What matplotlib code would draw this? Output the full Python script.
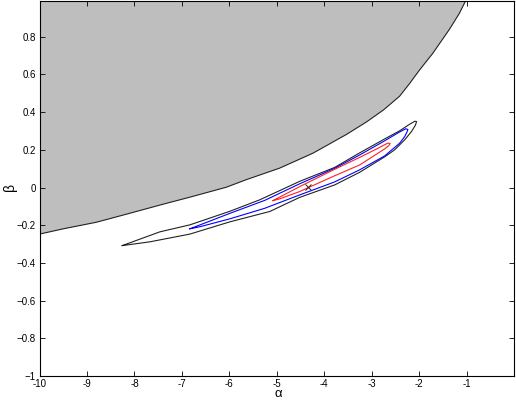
import matplotlib
matplotlib.use("Agg")
import matplotlib.pyplot as plt

# Boundary of the gray (infeasible) region
bound_x = [-10, -9.5, -8.8, -8.09, -7.39, -6.83, -6.06, -5.64, -4.94, -4.24,
           -3.53, -3.11, -2.75, -2.41, -2.2, -1.99, -1.71, -1.36, -1.15, -1.01]
bound_y = [-0.247, -0.219, -0.184, -0.136, -0.088, -0.051, 0.002, 0.042, 0.103, 0.182,
           0.282, 0.348, 0.412, 0.485, 0.552, 0.624, 0.713, 0.84, 0.925, 0.996]

# Outer (black) contour
black_x = [-8.257, -7.463, -6.832, -5.989, -5.358, -4.516, -3.779, -3.253, -2.726, -2.411,
           -2.2, -2.09, -2.053, -2.08, -2.158, -2.305, -2.516, -2.726, -3.253, -3.779,
           -4.516, -5.147, -5.989, -6.832, -7.674, -8.257]
black_y = [-0.308, -0.235, -0.198, -0.126, -0.065, 0.033, 0.107, 0.184, 0.258, 0.301,
           0.336, 0.352, 0.350, 0.330, 0.298, 0.253, 0.200, 0.163, 0.081, 0.014,
           -0.052, -0.127, -0.182, -0.247, -0.288, -0.308]

# Middle (blue) contour
blue_x = [-6.832, -5.989, -5.253, -4.516, -3.779, -3.253, -2.726, -2.411, -2.28, -2.236,
          -2.26, -2.305, -2.411, -2.726, -3.253, -3.779, -4.516, -5.253, -5.989, -6.621,
          -6.832]
blue_y = [-0.219, -0.137, -0.068, 0.020, 0.102, 0.173, 0.248, 0.295, 0.312, 0.308,
          0.292, 0.270, 0.235, 0.168, 0.094, 0.030, -0.039, -0.110, -0.166, -0.208,
          -0.219]

# Inner (red) contour
red_x = [-5.078, -4.516, -3.821, -3.253, -2.832, -2.66, -2.611, -2.64, -2.726, -3.253,
         -3.821, -4.516, -4.937, -5.078]
red_y = [-0.069, 0.005, 0.092, 0.160, 0.213, 0.236, 0.234, 0.222, 0.205, 0.120,
         0.058, -0.021, -0.060, -0.069]

# Estimate marker
est_x = [-4.34]
est_y = [0.004]

x_ticks = [-10, -9, -8, -7, -6, -5, -4, -3, -2, -1]
y_ticks = [-1, -0.8, -0.6, -0.4, -0.2, 0, 0.2, 0.4, 0.6, 0.8]

plt.rcParams['font.family'] = ['Liberation Sans', 'DejaVu Sans']

fig = plt.figure(figsize=(5.16, 4.0), dpi=100)
ax = fig.add_axes([39.5 / 516, 1 - 376 / 400, (514 - 39.5) / 516, 375 / 400])

fill_x = bound_x + [bound_x[-1], bound_x[0]]
fill_y = bound_y + [1.0, 1.0]
ax.fill(fill_x, fill_y, color='#bebebe', lw=0, zorder=1)
ax.plot(bound_x, bound_y, color='#222222', lw=0.8, zorder=2)

ax.plot(black_x, black_y, color='#222222', lw=0.8, zorder=3)
ax.plot(blue_x, blue_y, color='#0000ff', lw=0.8, zorder=3)
ax.plot(red_x, red_y, color='#ff2020', lw=0.8, zorder=3)
ax.plot(est_x, est_y, 'x', color='#222222', ms=4, mew=0.7, zorder=4)

ax.set_xlim(-10, 0)
ax.set_ylim(-1, 0.99)
ax.set_xticks(x_ticks)
ax.set_yticks(y_ticks)
ax.set_xticklabels([str(v) for v in x_ticks])
ax.set_yticklabels(['\u22121', '\u22120.8', '\u22120.6', '\u22120.4', '\u22120.2',
                    '0', '0.2', '0.4', '0.6', '0.8'])
ax.tick_params(direction='in', length=3.5, width=0.6, top=True, right=True,
               labelsize=7, pad=2.5)
for s in ax.spines.values():
    s.set_linewidth(0.8)

ax.set_xlabel('\u03b1', fontsize=9.5, va='center')
ax.xaxis.set_label_coords(278 / 516, 1 - 394 / 400, transform=fig.transFigure)
ax.set_ylabel('\u03b2', fontsize=10, va='center')
ax.yaxis.set_label_coords(10 / 516, 1 - 187 / 400, transform=fig.transFigure)

fig.savefig('out.png', dpi=100)
